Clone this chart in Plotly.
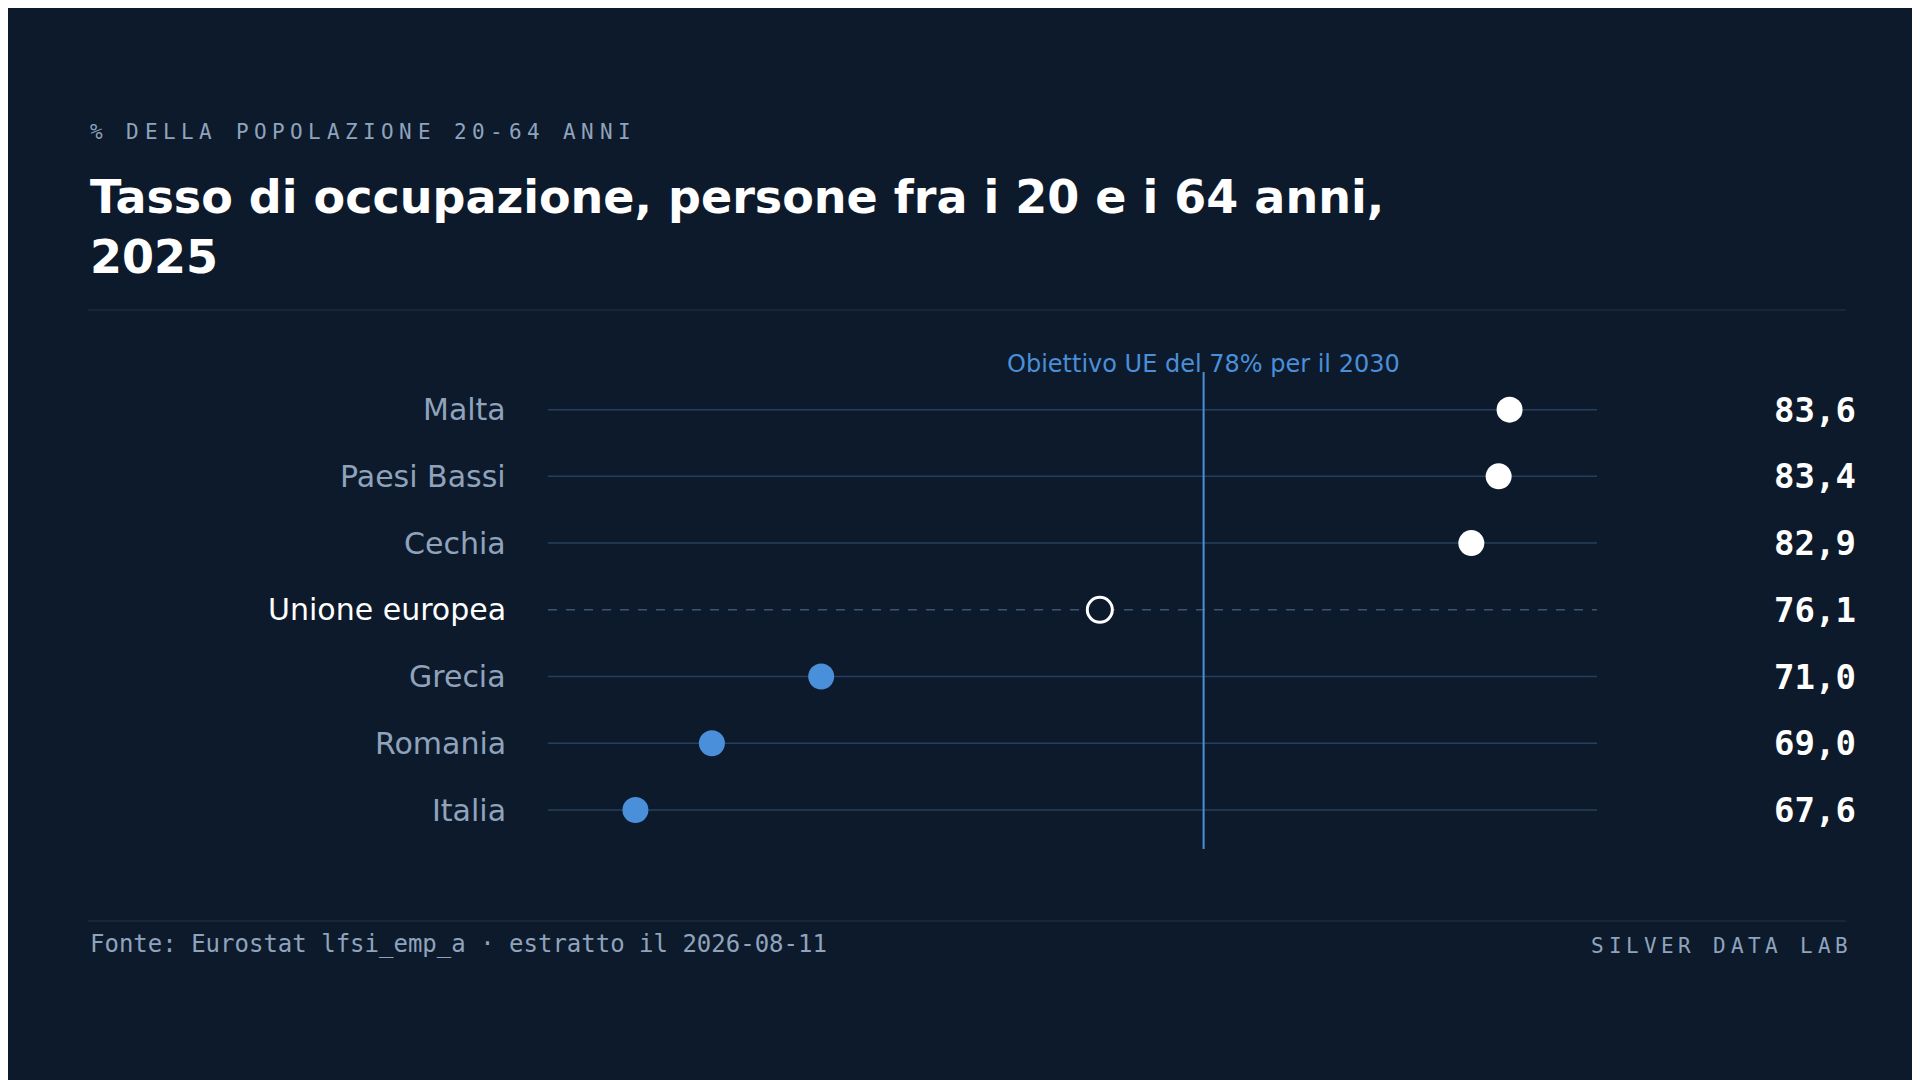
import plotly.graph_objects as go

countries = ["Malta", "Paesi Bassi", "Cechia", "Unione europea", "Grecia", "Romania", "Italia"]
values = [83.6, 83.4, 82.9, 76.1, 71.0, 69.0, 67.6]
value_labels = ["83,6", "83,4", "82,9", "76,1", "71,0", "69,0", "67,6"]
target = 78
x_min, x_max = 66, 85.2
subtitle = "% DELLA POPOLAZIONE 20-64 ANNI"
brand = "SILVER DATA LAB"

BG = "#0d1a2b"
BLUE = "#4a8fd9"
GRID = "#24405e"
MUTED = "#8fa3bd"

W, H = 1920, 1080
L, R, T, B = 540, 1589, 364, 841
def px(x): return (x - L) / (R - L)
def py(y): return (H - y - (H - B)) / (B - T)

n = len(countries)
ypos = [n - 1 - i for i in range(n)]

fig = go.Figure()
for c, v, y in zip(countries, values, ypos):
    eu = c == "Unione europea"
    fig.add_trace(go.Scatter(x=[x_min, x_max], y=[y, y], mode="lines",
                             line=dict(color=GRID if not eu else "#3a5472", width=1.5,
                                       dash="dash" if eu else "solid"),
                             hoverinfo="skip", showlegend=False))
for c, v, y in zip(countries, values, ypos):
    eu = c == "Unione europea"
    if eu:
        mk = dict(size=25, color=BG, line=dict(color="white", width=3))
    elif v >= target:
        mk = dict(size=26, color="white", line=dict(width=0))
    else:
        mk = dict(size=26, color=BLUE, line=dict(width=0))
    fig.add_trace(go.Scatter(x=[v], y=[y], mode="markers", marker=mk, showlegend=False))

fig.add_shape(type="line", x0=target, x1=target, y0=0, y1=1, yref="paper",
              line=dict(color=BLUE, width=2))
fig.add_annotation(x=target, y=py(340), yref="paper", text="Obiettivo UE del 78% per il 2030",
                   showarrow=False, font=dict(family="DejaVu Sans", size=24, color=BLUE))

for c, lab, y in zip(countries, value_labels, ypos):
    eu = c == "Unione europea"
    fig.add_annotation(x=px(500), xref="paper", y=y, text=c, showarrow=False, xanchor="right",
                       font=dict(family="DejaVu Sans", size=30, color="white" if eu else MUTED))
    fig.add_annotation(x=px(1850), xref="paper", y=y, text="<b>" + lab + "</b>", showarrow=False,
                       xanchor="right", font=dict(family="DejaVu Sans Mono", size=34, color="white"))

def spaced(text, x0, yc, pitch, size, anchor_right=False):
    xs = [x0 + i * pitch for i in range(len(text))]
    if anchor_right:
        shift = x0 - xs[-1]
        xs = [x + shift for x in xs]
    for ch, x in zip(text, xs):
        if ch == " ":
            continue
        fig.add_annotation(x=px(x), y=py(yc), xref="paper", yref="paper", xanchor="left",
                           showarrow=False, text=ch,
                           font=dict(family="DejaVu Sans Mono", size=size, color=MUTED))

spaced(subtitle, 80, 110, 18.2, 21)
spaced(brand, 1825, 952, 17.4, 21, anchor_right=True)

fig.add_annotation(x=px(80), y=py(160), xref="paper", yref="paper", xanchor="left", yanchor="top",
                   align="left", showarrow=False,
                   text="<b>Tasso di occupazione, persone fra i 20 e i 64 anni,<br>2025</b>",
                   font=dict(family="DejaVu Sans", size=46, color="white"))
for yy in (302, 913):
    fig.add_shape(type="line", xref="paper", yref="paper", x0=px(80), x1=px(1838),
                  y0=py(yy), y1=py(yy), line=dict(color="#1c2b3e", width=1.5))
fig.add_annotation(x=px(80), y=py(952), xref="paper", yref="paper", xanchor="left", showarrow=False,
                   text="Fonte: Eurostat lfsi_emp_a · estratto il 2026-08-11",
                   font=dict(family="DejaVu Sans Mono", size=24, color=MUTED))

fig.update_layout(width=W, height=H, paper_bgcolor=BG, plot_bgcolor=BG,
                  margin=dict(l=L, r=W - R, t=T, b=H - B),
                  xaxis=dict(range=[x_min, x_max], visible=False, fixedrange=True),
                  yaxis=dict(range=[-0.584, n - 1 + 0.564], visible=False, fixedrange=True),
                  showlegend=False)
fig.write_html("out.html")
